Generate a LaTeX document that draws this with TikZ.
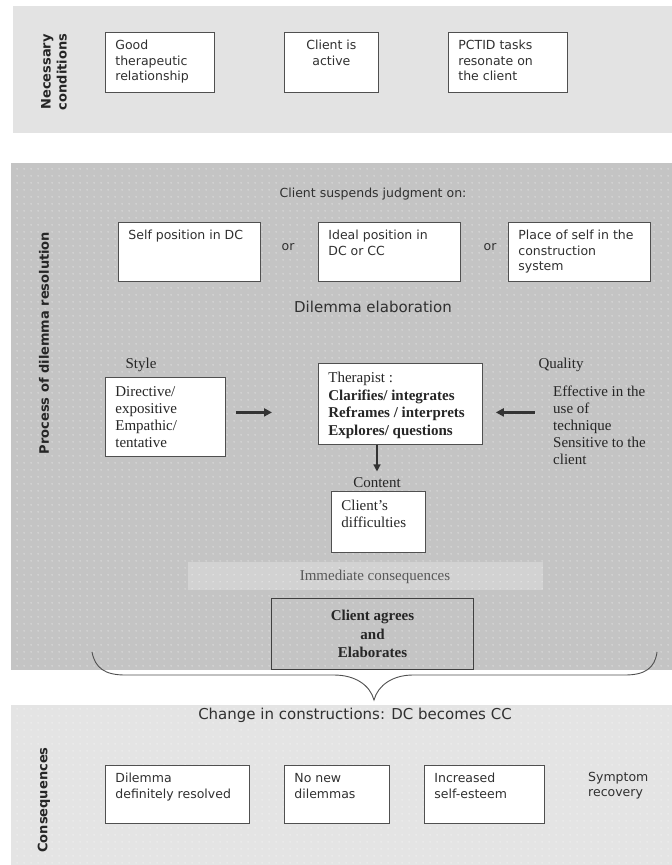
\documentclass[tikz,border=0pt]{standalone}
\usepackage{fontspec}
\setmainfont{Liberation Serif}
\setsansfont{DejaVu Sans}
\usetikzlibrary{arrows.meta,patterns.meta}

\definecolor{topgray}{HTML}{E3E3E3}
\definecolor{midgray}{HTML}{C4C4C4}
\definecolor{stripgray}{HTML}{D2D2D2}
\definecolor{botgray}{HTML}{E4E4E4}
\definecolor{edgegray}{HTML}{505050}
\definecolor{inkgray}{HTML}{303030}

\tikzdeclarepattern{
  name=whitedots,
  type=colored,
  bounding box={(0pt,0pt) and (7pt,7pt)},
  tile size={(7pt,7pt)},
  code={\fill[white] (3.5pt,3.5pt) circle (0.6pt);}
}

\newcommand{\boxtext}[3]{\parbox[t][#2pt][t]{#1pt}{\raggedright #3}}

\tikzset{
  sanstxt/.style={font=\sffamily\fontsize{12.5}{15.5}\selectfont, text=inkgray},
  seriftxt/.style={font=\rmfamily\fontsize{15}{17}\selectfont, text=black!85},
  sidelabel/.style={font=\sffamily\bfseries\fontsize{13}{16}\selectfont, rotate=90, align=center, text=black!85},
  sansbox/.style={sanstxt, draw=edgegray, fill=white, line width=0.8pt, anchor=north west, inner xsep=10pt, inner ysep=8pt},
  serifbox/.style={seriftxt, draw=edgegray, fill=white, line width=0.8pt, anchor=north west, inner xsep=10pt, inner ysep=9pt},
  arr/.style={-{Triangle[length=8pt,width=8pt]}, line width=2.6pt, black!80},
}

\begin{document}
\begin{tikzpicture}[x=1pt,y=-1pt]
    \useasboundingbox (0,0) rectangle (672,865);
    \fill[white] (0,0) rectangle (672,865);
    % bands
    \fill[topgray] (13,6) rectangle (672,133);
    \path[fill=midgray, postaction={pattern=whitedots}] (11,163) rectangle (672,670);
    \path[fill=stripgray, postaction={pattern=whitedots}] (188,562) rectangle (543,590);
    \path[fill=botgray, postaction={pattern=whitedots}] (11,705) rectangle (672,865);

    % necessary conditions
    \node[sidelabel] (necessary) at (54,72) {Necessary\\conditions};
    \node[sansbox] (good) at (105,32) {\boxtext{89}{44}{Good\\therapeutic\\relationship}};
    \node[sansbox] (active) at (284,32) {\parbox[t][44pt][t]{74pt}{\centering Client is\\active}};
    \node[sansbox] (pctid) at (448,32) {\boxtext{99}{44}{PCTID tasks\\resonate on\\the client}};

    % process of dilemma resolution
    \node[sidelabel] (process) at (44,343) {Process of dilemma resolution};
    \node[sanstxt] (suspend) at (373,194) {Client suspends judgment on:};
    \node[sansbox] (selfpos) at (118,222) {\boxtext{122}{43}{Self position in DC}};
    \node[sanstxt] (or1) at (288,247) {or};
    \node[sansbox] (idealpos) at (318,222) {\boxtext{122}{43}{Ideal position in\\DC or CC}};
    \node[sanstxt] (or2) at (490,247) {or};
    \node[sansbox] (place) at (508,222) {\boxtext{122}{43}{Place of self in the\\construction\\system}};
    \node[sanstxt, font=\sffamily\fontsize{15}{18}\selectfont] (elab) at (373,307) {Dilemma elaboration};

    \node[seriftxt] (stylelbl) at (141,365) {Style};
    \node[serifbox] (stylebox) at (105,377) {\boxtext{100}{61}{Directive/\\expositive\\Empathic/\\tentative}};
    \node[serifbox, font=\rmfamily\fontsize{15}{17.5}\selectfont] (therapist) at (318,363)
        {\boxtext{144}{63}{Therapist :\\\textbf{Clarifies/ integrates}\\\textbf{Reframes / interprets}\\\textbf{Explores/ questions}}};
    \node[seriftxt] (quallbl) at (561,365) {Quality};
    \node[seriftxt, anchor=north west, align=left, inner sep=0pt] (qualtext) at (553,386)
        {Effective in the\\use of\\technique\\Sensitive to the\\client};
    \draw[arr] ([shift={(10,-4.5)}]stylebox.east) -- ([shift={(-46,8.5)}]therapist.west);
    \draw[arr] ([shift={(52,8.5)}]therapist.east) -- ([shift={(13,8.5)}]therapist.east);

    \node[seriftxt] (contentlbl) at (377,483) {Content};
    \draw[arr, line width=1.5pt, -{Triangle[length=7pt,width=7pt]}, shorten >=3pt]
        (therapist.south -| contentlbl) -- (contentlbl);
    \node[serifbox] (content) at (331,491) {\boxtext{74}{43}{Client's\\difficulties}};

    \node[seriftxt, text=black!65] (immediate) at (375,577) {Immediate consequences};
    \node[draw=black!75, fill=midgray, postaction={pattern=whitedots}, line width=1pt,
          minimum width=202, minimum height=71, anchor=north west, align=center,
          font=\rmfamily\bfseries\fontsize{15}{18.5}\selectfont, text=black!85] (agrees) at (271,598)
        {Client agrees\\and\\Elaborates};

    % brace
    \draw[edgegray, line width=0.9pt] (92,652) .. controls (95,668) and (105,675) .. (125,675)
        -- (334,675) .. controls (355,675) and (370,685) .. (374,700)
        .. controls (378,685) and (393,675) .. (413,675)
        -- (625,675) .. controls (645,675) and (655,668) .. (657,652);

    % consequences
    \node[sanstxt, font=\sffamily\fontsize{15}{18}\selectfont] (change) at (355,715) {Change in constructions: DC becomes CC};
    \node[sidelabel] (conseq) at (44,800) {Consequences};
    \node[sansbox] (resolved) at (105,765) {\boxtext{124}{42}{Dilemma\\definitely resolved}};
    \node[sansbox] (nonew) at (284,765) {\boxtext{85}{42}{No new\\dilemmas}};
    \node[sansbox] (esteem) at (424,765) {\boxtext{100}{42}{Increased\\self-esteem}};
    \node[sanstxt, anchor=north west, align=left, inner sep=0pt] (symptom) at (588,772) {Symptom\\recovery};
\end{tikzpicture}
\end{document}
